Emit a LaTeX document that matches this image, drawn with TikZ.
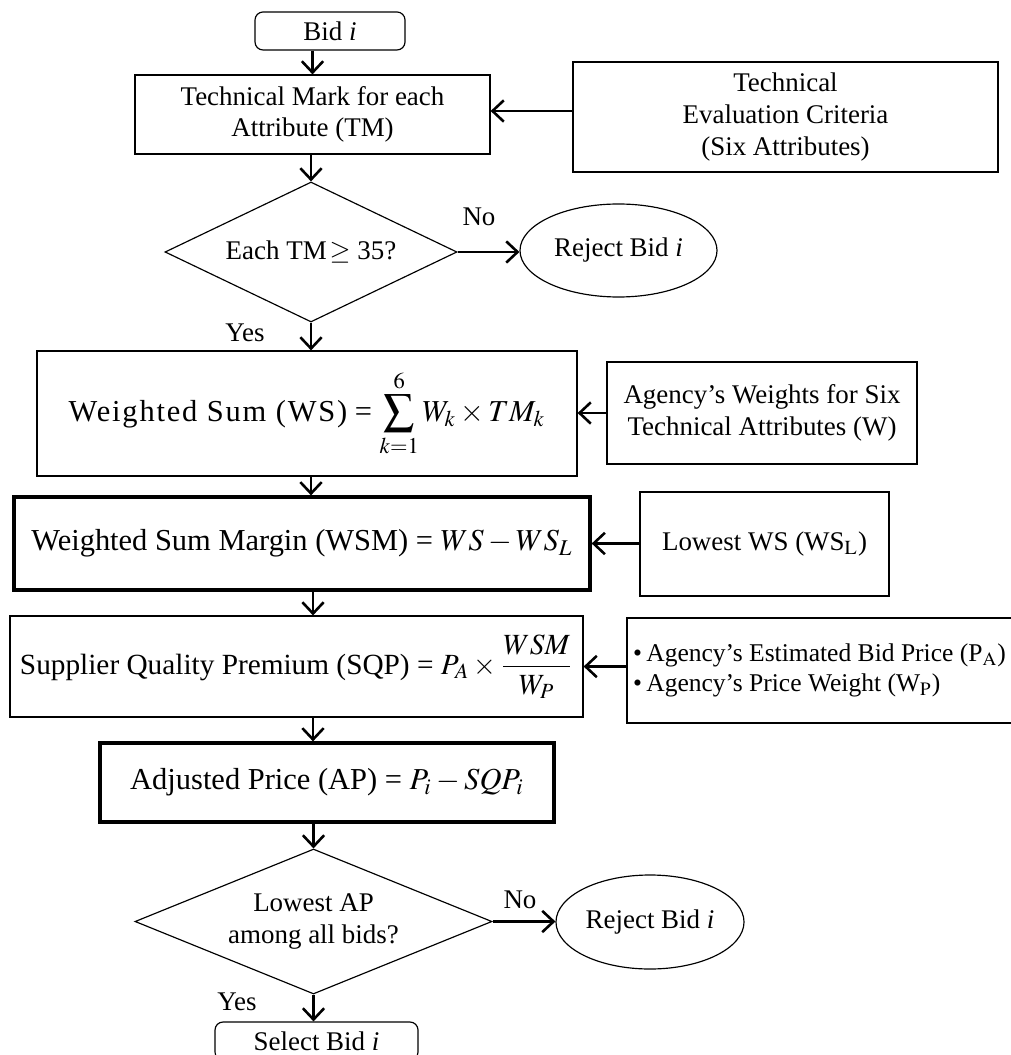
\documentclass[tikz,border=0pt]{standalone}
\usepackage{mathptmx}
\usepackage{fontspec}
\setmainfont{Liberation Serif}
\usetikzlibrary{shapes.geometric,arrows.meta}
\tikzset{>={Straight Barb[length=1.7mm,width=3.2mm]}}
\tikzset{
  box/.style={draw, line width=0.5pt, align=center, inner sep=0pt},
  heavybox/.style={box, line width=1.4pt},
  startbox/.style={box, rounded corners=1.2mm},
  decision/.style={box, diamond},
  rejectnode/.style={box, ellipse},
  flow/.style={->, line width=1.1pt},
  formula/.style={font=\fontsize{13}{15}\selectfont}
}

\begin{document}
\begin{tikzpicture}[x=0.15mm, y=-0.15mm, font=\fontsize{11.5}{13.5}\selectfont]
    \useasboundingbox (0,0) rectangle (1010,1055);
    \node (bid) at (330,31) [startbox, minimum width=22.5mm, minimum height=5.7mm] {Bid \textit{i}};
    \node (tm) at (312.5,114.5) [box, minimum width=53.25mm, minimum height=11.85mm] {Technical Mark for each\\Attribute (TM)};
    \node (tech) at (785.5,117) [box, minimum width=63.75mm, minimum height=16.5mm] {Technical\\Evaluation Criteria\\(Six Attributes)};
    \node (check) at (311,252) [decision, aspect=2.086, minimum width=43.8mm, minimum height=21mm] {Each TM$\,\geq$ 35?};
    \node (reject) at (618.5,250.5) [rejectnode, minimum width=29.55mm, minimum height=13.95mm] {Reject Bid \textit{i}};
    \node (ws) at (307,413.5) [box, formula, minimum width=81mm, minimum height=18.75mm] {{\addfontfeature{LetterSpace=6}Weighted Sum (WS)} = $\displaystyle\sum_{k=1}^{6} W_k \times TM_k$};
    \node (weights) at (762,413) [box, minimum width=46.5mm, minimum height=15.3mm] {Agency's Weights for Six\\Technical Attributes (W)};
    \node (wsm) at (302,543.5) [heavybox, formula, minimum width=86.4mm, minimum height=13.95mm] {Weighted Sum Margin (WSM) = $WS - WS_L$};
    \node (lowest) at (764.5,544) [box, minimum width=37.35mm, minimum height=15.6mm] {Lowest WS (WS$_\mathrm{L}$)};
    \node (sqp) at (296.5,666.5) [box, font=\fontsize{12.5}{15}\selectfont, minimum width=85.95mm, minimum height=15.15mm] {Supplier Quality Premium (SQP) = $P_A \times \displaystyle\frac{WSM}{W_P}$};
    \node (est) at (819.5,670.5) [box, align=left, font=\fontsize{10.9}{13}\selectfont, minimum width=57.75mm, minimum height=15.75mm] {\textbullet\,Agency's Estimated Bid Price (P$_\mathrm{A}$)\\\textbullet\,Agency's Price Weight (W$_\mathrm{P}$)};
    \node (ap) at (327,782.5) [heavybox, formula, minimum width=68.1mm, minimum height=11.85mm] {Adjusted Price (AP) = $P_i - SQP_i$};
    \node (lowap) at (313.5,921.5) [decision, aspect=2.46, minimum width=53.55mm, minimum height=21.75mm] {Lowest AP\\among all bids?};
    \node (rejectb) at (650,922) [rejectnode, minimum width=28.2mm, minimum height=14.1mm] {Reject Bid \textit{i}};
    \node (select) at (316.5,1041) [startbox, minimum width=30.45mm, minimum height=5.7mm] {Select Bid \textit{i}};
    \node (no) at (479,217) {No};
    \node (yes) at (245,333) {Yes};
    \node (nob) at (520,900) {No};
    \node (yesb) at (237,1002) {Yes};
    \draw[flow] (bid.south -| tm.north) -- (tm.north);
    \draw[flow] (tech.west |- 0,111) -- (tm.east |- 0,111);
    \draw[flow] (check.north |- tm.south) -- (check.north);
    \draw[flow] (check.east) -- (check.east -| reject.west);
    \draw[flow] (check.south) -- (check.south |- ws.north);
    \draw[flow] (weights.west) -- (weights.west -| ws.east);
    \draw[flow] (ws.south -| check.south) -- (check.south |- wsm.north);
    \draw[flow] (wsm.east -| lowest.west) -- (wsm.east);
    \draw[flow] (313,0 |- wsm.south) -- (313,0 |- sqp.north);
    \draw[flow] (sqp.east -| est.west) -- (sqp.east);
    \draw[flow] (313,0 |- sqp.south) -- (313,0 |- ap.north);
    \draw[flow] (ap.south -| lowap.north) -- (lowap.north);
    \draw[flow] (lowap.east) -- (lowap.east -| rejectb.west);
    \draw[flow] (lowap.south) -- (lowap.south |- select.north);
\end{tikzpicture}
\end{document}
